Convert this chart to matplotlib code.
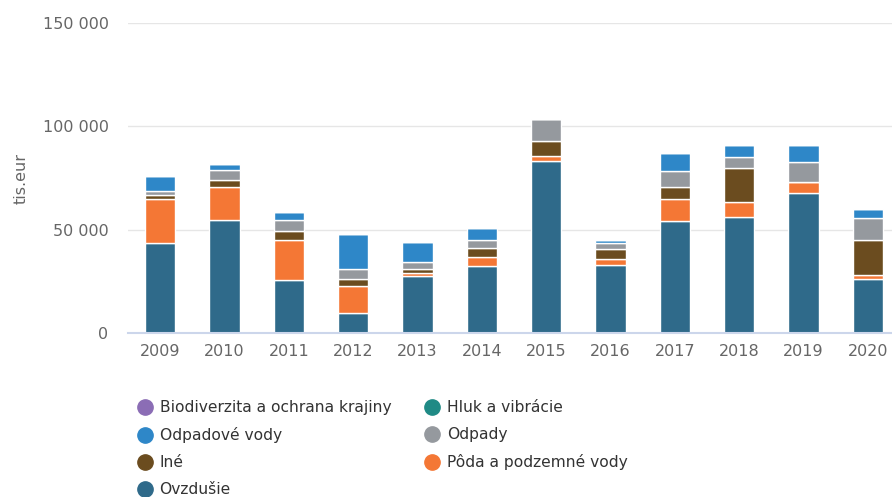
import numpy as np
import matplotlib.pyplot as plt
from matplotlib.lines import Line2D

years = ["2009", "2010", "2011", "2012", "2013", "2014",
         "2015", "2016", "2017", "2018", "2019", "2020"]

# tis. eur
ovzdusie = [43700, 54800, 25500, 9700, 27700, 32300, 83400, 33100, 54200, 56300, 67600, 26100]
poda = [21000, 15700, 19500, 12900, 1500, 4300, 2300, 2900, 10600, 6900, 5300, 1800]
ine = [2200, 3700, 4500, 3500, 1600, 4500, 7400, 4500, 5700, 16500, 0, 17100]
odpady = [1700, 4700, 5200, 4900, 3700, 3900, 10500, 3100, 7700, 5300, 9800, 10600]
odpadove_vody = [7200, 2900, 3800, 16900, 9700, 6000, 0, 1400, 9100, 6000, 8300, 4400]
hluk = [0] * 12
biodiverzita = [0] * 12

# bottom to top
series = [
    ("Ovzdušie", ovzdusie, "#2f6a8a"),
    ("Pôda a podzemné vody", poda, "#f47735"),
    ("Iné", ine, "#6b4c1f"),
    ("Odpady", odpady, "#95999e"),
    ("Odpadové vody", odpadove_vody, "#2e87c8"),
    ("Hluk a vibrácie", hluk, "#1f8a85"),
    ("Biodiverzita a ochrana krajiny", biodiverzita, "#8b6db5"),
]

fig = plt.figure(figsize=(8.92, 4.97), dpi=100)
ax = fig.add_axes([128 / 892, 164 / 497, 764 / 892, 310 / 497])

x = np.arange(len(years))
bottom = np.zeros(len(years))
for name, vals, col in series:
    vals = np.array(vals, dtype=float)
    ax.bar(x, vals, 0.467, bottom=bottom, color=col, edgecolor="white",
           linewidth=1, zorder=3)
    bottom += vals

ax.set_xlim(-0.5, 11.376)
ax.set_ylim(0, 150000)
ax.set_yticks([0, 50000, 100000, 150000])
ax.set_yticklabels(["0", "50 000", "100 000", "150 000"])
ax.set_xticks(x)
ax.set_xticklabels(years)
ax.grid(axis="y", color="#e6e6e6", linewidth=1, zorder=0)
for s in ["top", "right", "left"]:
    ax.spines[s].set_visible(False)
ax.spines["bottom"].set_color("#ccd6eb")
ax.spines["bottom"].set_linewidth(1.5)
ax.spines["bottom"].set_zorder(4)
ax.tick_params(axis="both", length=0, colors="#666666", labelsize=11.5)
ax.tick_params(axis="y", pad=14)
ax.tick_params(axis="x", pad=8)
ax.set_ylabel("tis.eur", color="#666666", fontsize=11.5, labelpad=10)

# legend, row order as in the picture (column-major in matplotlib)
legend_order = ["Biodiverzita a ochrana krajiny", "Odpadové vody", "Iné", "Ovzdušie",
                "Hluk a vibrácie", "Odpady", "Pôda a podzemné vody"]
colors = {name: col for name, vals, col in series}
handles = [Line2D([], [], marker="o", linestyle="", markersize=11,
                  markerfacecolor=colors[n], markeredgecolor=colors[n]) for n in legend_order]
leg = fig.legend(handles, legend_order, ncol=2, loc="upper left",
                 bbox_to_anchor=(137 / 892, 1 - 400 / 497), frameon=False,
                 fontsize=11.2, labelcolor="#333333", handletextpad=0.45,
                 columnspacing=2.15, labelspacing=0.78, handlelength=1.0,
                 borderaxespad=0, borderpad=0)

fig.savefig("out.png", dpi=100)
